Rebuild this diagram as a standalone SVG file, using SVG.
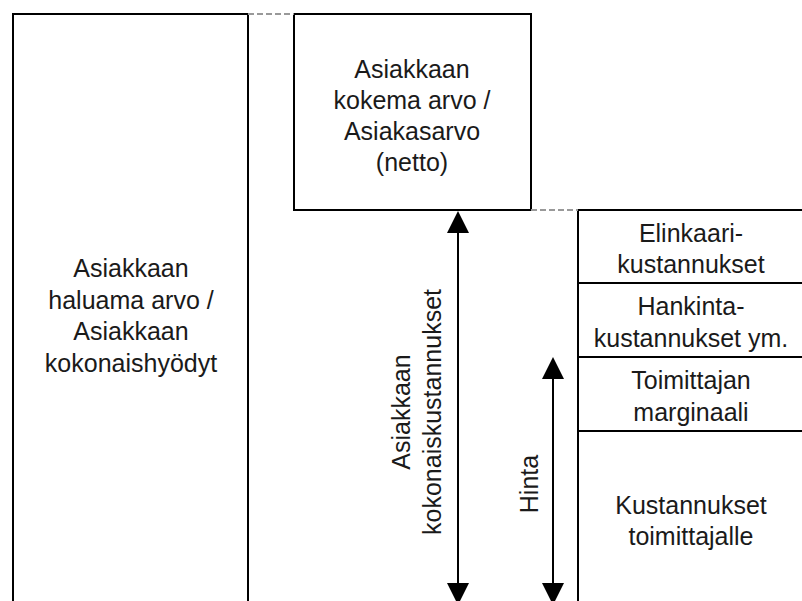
<svg xmlns="http://www.w3.org/2000/svg" width="802" height="601" viewBox="0 0 802 601">
  <style>
    .box { fill: none; stroke: #000; stroke-width: 2; }
    .guide { fill: none; stroke: #999; stroke-width: 2; stroke-dasharray: 6 3; }
    .shaft { fill: none; stroke: #000; stroke-width: 2; }
    .head { fill: #000; }
    text { font-family: "Liberation Sans", Arial, sans-serif; font-size: 25px; fill: #1a1a1a; text-anchor: middle; }
  </style>
  <rect width="802" height="601" fill="#fff"/>

  <!-- Total desired value (tall left column, open at the bottom) -->
  <g id="haluama-arvo">
    <path class="box" d="M13,601 V14 H248 V601"/>
    <text x="131" y="277">Asiakkaan</text>
    <text x="131" y="309">haluama arvo /</text>
    <text x="131" y="340">Asiakkaan</text>
    <text x="131" y="372">kokonaishyödyt</text>
  </g>

  <!-- Net customer value -->
  <g id="kokema-arvo">
    <rect class="box" x="294" y="14" width="237" height="196"/>
    <text x="412" y="78">Asiakkaan</text>
    <text x="412" y="109">kokema arvo /</text>
    <text x="412" y="140">Asiakasarvo</text>
    <text x="412" y="171">(netto)</text>
  </g>

  <!-- Cost stack (open to the right and bottom) -->
  <g id="elinkaari">
    <path class="box" d="M802,210 H578 V283 H802"/>
    <text x="691" y="242">Elinkaari-</text>
    <text x="691" y="273">kustannukset</text>
  </g>
  <g id="hankinta">
    <path class="box" d="M578,283 V357 H802"/>
    <text x="691" y="315">Hankinta-</text>
    <text x="691" y="347">kustannukset ym.</text>
  </g>
  <g id="marginaali">
    <path class="box" d="M578,357 V431 H802"/>
    <text x="691" y="389">Toimittajan</text>
    <text x="691" y="421">marginaali</text>
  </g>
  <g id="kustannukset">
    <path class="box" d="M578,431 V601"/>
    <text x="691" y="514">Kustannukset</text>
    <text x="691" y="545">toimittajalle</text>
  </g>

  <!-- Connectors: level guides and dimension arrows -->
  <g id="connectors">
    <line class="guide" x1="248" y1="14" x2="294" y2="14"/>
    <line class="guide" x1="531" y1="210" x2="578" y2="210"/>

    <line class="shaft" x1="458" y1="230" x2="458" y2="590"/>
    <polygon class="head" points="458,211 447,233 469,233"/>
    <polygon class="head" points="458,605 447,583 469,583"/>

    <line class="shaft" x1="553" y1="376" x2="553" y2="590"/>
    <polygon class="head" points="553,357 542,379 564,379"/>
    <polygon class="head" points="553,605 542,583 564,583"/>
  </g>

  <!-- Dimension labels -->
  <g id="kokonaiskustannukset-label">
    <text transform="translate(410,412) rotate(-90)">Asiakkaan</text>
    <text transform="translate(441,412) rotate(-90)">kokonaiskustannukset</text>
  </g>
  <g id="hinta-label">
    <text transform="translate(538,484) rotate(-90)">Hinta</text>
  </g>
</svg>
